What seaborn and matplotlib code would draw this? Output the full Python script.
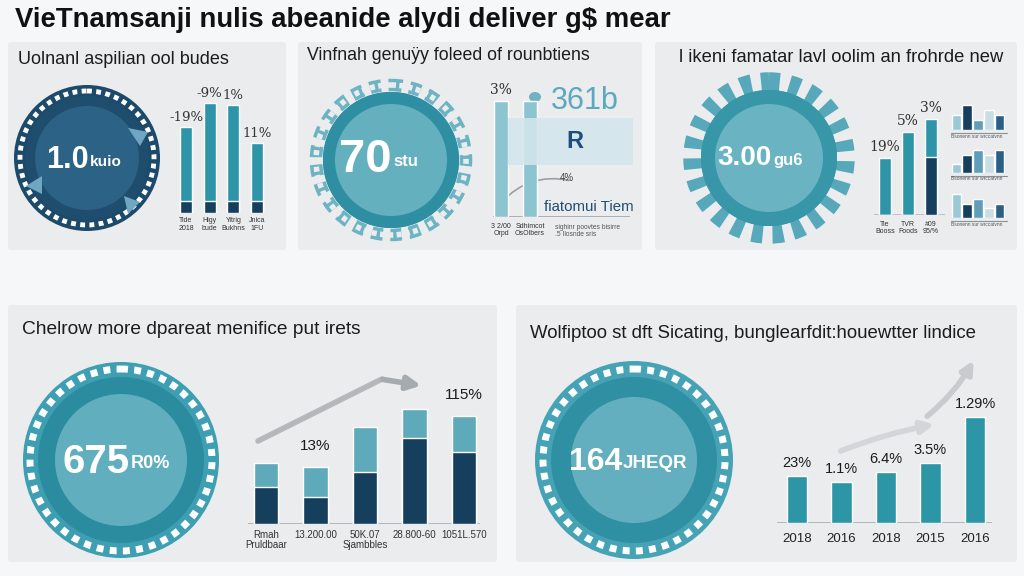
import numpy as np
import matplotlib
matplotlib.use("Agg")
import matplotlib.pyplot as plt
import matplotlib.patches as mpatches
import seaborn as sns

# ============================================================
# Data
# ============================================================

main_title = "VieTnamsanji nulis abeanide alydi deliver g$ mear"

panel_titles = [
    "Uolnanl aspilian ool budes",
    "Vinfnah genuÿy foleed of rounbtiens",
    "l ikeni famatar lavl oolim an frohrde new",
    "Chelrow more dpareat menifice put irets",
    "Wolfiptoo st dft Sicating, bunglearfdit:houewtter lindice",
]

donut_values = ["1.0", "70", "3.00", "675", "164"]
donut_units = ["kuio", "stu", "gu6", "R0%", "JHEQR"]

# panel 1: bar heights (total) and dark base segment
p1_total = [86, 110, 108, 70]
p1_base = [12, 12, 12, 12]
p1_labels = ["-19%", "-9%", "1%", "11%"]
p1_ticks = ["Tide\n2018", "Higy\nbude", "Yitrig\nBukhns", "Jnica\n1FU"]

# panel 2: two pale bars
p2_total = [116, 116]
p2_ticks = ["3 2/00\nOrpd", "Sdhimcot\nOsOlbers"]

# panel 3: bars, dark lower part of the last bar
p3_total = [57, 83, 96]
p3_dark = [0, 0, 58]
p3_labels = ["19%", "5%", "3%"]
p3_ticks = ["Tie\nBooss", "TVR\nFoods", "#09\n95/%"]
p3_icons = [[3, 5, 2, 4, 3], [2, 4, 5, 4, 5], [5, 3, 4, 2, 3]]

# panel 4: stacked bars
p4_total = [61, 57, 97, 115, 108]
p4_dark = [37, 27, 52, 86, 72]
p4_labels = ["", "13%", "", "", "115%"]
p4_ticks = ["Rmah\nPruldbaar", "13.200.00", "50K.07\nSjambbles", "28.800-60", "1051L.570"]

# panel 5: simple bars
p5_total = [47, 41, 51, 60, 106]
p5_labels = ["23%", "1.1%", "6.4%", "3.5%", "1.29%"]
p5_ticks = ["2018", "2016", "2018", "2015", "2016"]

# ============================================================
# Style
# ============================================================

sns.set_theme(style="white")
plt.rcParams["font.family"] = ["Liberation Sans", "DejaVu Sans"]

W, H = 1024, 576
BG = "#f6f7f8"
PANEL = "#eaecee"
TEAL = "#2e95a9"
TEAL_LIGHT = "#5eaabb"
NAVY = "#153f5c"
TXT = "#1c1c1c"

fig = plt.figure(figsize=(W / 100, H / 100), dpi=100, facecolor=BG)

ov = fig.add_axes([0, 0, 1, 1])
ov.set_xlim(0, W)
ov.set_ylim(H, 0)
ov.axis("off")

# panels
for (x0, y0, x1, y1) in [(8, 42, 286, 250), (298, 42, 642, 250), (655, 42, 1017, 250),
                         (8, 305, 497, 562), (516, 305, 1017, 562)]:
    ov.add_patch(mpatches.FancyBboxPatch((x0, y0), x1 - x0, y1 - y0,
                                         boxstyle="round,pad=0,rounding_size=3",
                                         fc=PANEL, ec="none"))

ov.text(15, 20, main_title, fontsize=19.8, fontweight="bold", color="#111111",
        va="center", ha="left")

title_pos = [(18, 60, 13), (307, 56, 12.8), (679, 58, 13.2), (22, 330, 13.8), (530, 334, 13.4)]
for (tx, ty, fs), t in zip(title_pos, panel_titles):
    ov.text(tx, ty, t, fontsize=fs, color=TXT, va="center", ha="left")


# ============================================================
# Donuts
# ============================================================

def donut(cx, cy, r_out, outer_c, r_band, band_c, r_in, inner_c,
          dash_r=None, dash_c="white", dash_lw=4, dash_pat=(1.0, 0.9)):
    ov.add_patch(mpatches.Circle((cx, cy), r_out, fc=outer_c, ec="none"))
    if dash_r is not None:
        ov.add_patch(mpatches.Circle((cx, cy), dash_r, fill=False, ec=dash_c,
                                     lw=dash_lw, ls=(0, dash_pat)))
    ov.add_patch(mpatches.Circle((cx, cy), r_band, fc=band_c, ec="none"))
    ov.add_patch(mpatches.Circle((cx, cy), r_in, fc=inner_c, ec="none"))


# panel 1
donut(87, 158, 73, "#1d4a6a", 62, "#1f4d6e", 52, "#2c6286", dash_r=67, dash_lw=3.5)
for tri in [[(128, 128), (148, 132), (140, 146)],
            [(26, 186), (42, 176), (42, 194)],
            [(124, 196), (140, 202), (128, 214)]]:
    ov.add_patch(mpatches.Polygon(tri, fc="#6fa7c2", ec="none"))

# panel 2
ov.add_patch(mpatches.Circle((391, 160), 75, fill=False, ec="#6db3c3", lw=9,
                             ls=(0, (0.9, 0.6))))
ov.add_patch(mpatches.Circle((391, 160), 75, fill=False, ec=PANEL, lw=4,
                             ls=(0, (0.9, 0.6))))
donut(391, 160, 68, "#2f8fa2", 68, "#2f8fa2", 56, "#65b0bf")

# panel 3
ov.add_patch(mpatches.Circle((769, 158), 76, fill=False, ec="#56a8ba", lw=14,
                             ls=(0, (0.55, 0.5))))
donut(769, 158, 68, "#3896a9", 68, "#3896a9", 54, "#6ab3c2")

# panel 4
donut(121, 460, 98, "#3f9fb2", 83, "#2b8c9f", 66, "#60aebe", dash_r=91, dash_lw=5)

# panel 5
donut(634, 460, 99, "#46a3b5", 83, "#2f90a3", 63, "#64afbf", dash_r=91, dash_lw=5)

# donut value texts: (center x, y, split offset, big size, small size)
donut_text = [(87, 160, 2, 22, 11), (391, 160, 1, 34, 12), (769, 158, 3, 20, 12),
              (121, 462, 9, 29, 13), (634, 462, -12, 23, 13.5)]
for (cx, cy, dx, fs_big, fs_small), v, u in zip(donut_text, donut_values, donut_units):
    ov.text(cx + dx, cy, v, fontsize=fs_big, fontweight="bold", color="white",
            ha="right", va="center")
    ov.text(cx + dx + 1, cy + 2, u, fontsize=fs_small, fontweight="bold", color="white",
            ha="left", va="center")


# ============================================================
# Bar charts
# ============================================================

def bar_axes(left, right, base, top, c0, sp):
    ax = fig.add_axes([left / W, 1 - base / H, (right - left) / W, (base - top) / H])
    ax.set_facecolor("none")
    return ax, ((left - c0) / sp, (right - c0) / sp), (0, base - top)


def finish(ax, xlim, ylim, ticks, fs, tick_c="#333333", pad=3, baseline=None):
    ax.set_xlim(*xlim)
    ax.set_ylim(*ylim)
    ax.set_xticks(range(len(ticks)), ticks, fontsize=fs, color=tick_c, linespacing=1.1)
    ax.set_yticks([])
    ax.set_xlabel("")
    ax.set_ylabel("")
    ax.tick_params(axis="x", length=0, pad=pad)
    sns.despine(ax=ax, left=True, bottom=True)
    if baseline:
        ax.axhline(0, color=baseline, lw=1.2, zorder=0)


# panel 1
ax1, xl, yl = bar_axes(176, 268, 213, 80, 186, 23.7)
idx = list(range(len(p1_total)))
sns.barplot(x=idx, y=p1_total, color=TEAL, width=0.5, saturation=1, errorbar=None, ax=ax1)
sns.barplot(x=idx, y=p1_base, color=NAVY, width=0.5, saturation=1, errorbar=None, ax=ax1)
for i, (v, lab) in enumerate(zip(p1_total, p1_labels)):
    ax1.text(i, v + 3, lab, fontsize=9.5, ha="center", va="bottom", color="#333333",
             family="DejaVu Serif")
finish(ax1, xl, yl, p1_ticks, 5, pad=3)

# panel 2
ax2, xl, yl = bar_axes(493, 630, 217, 80, 501, 29)
idx = list(range(len(p2_total)))
sns.barplot(x=idx, y=p2_total, color="#8cc4d0", width=0.48, saturation=1, errorbar=None, ax=ax2)
finish(ax2, xl, yl, p2_ticks, 5, pad=4, baseline="#a0a6aa")
ax2.text(0, p2_total[0] + 4, "3%", fontsize=10, ha="center", va="bottom", color="#333333",
         family="DejaVu Serif")
ax2.add_patch(mpatches.Rectangle((508, 118), 125, 47, fc="#d3e6ec", ec="none", alpha=0.88,
                                 transform=ov.transData, clip_on=False, zorder=5))
ax2.text(575, 142, "R", fontsize=17, fontweight="bold", color="#1e4f78", ha="center",
         va="center", transform=ov.transData, zorder=6)
ov.text(585, 101, "361b", fontsize=22, color="#5ba9bc", ha="center", va="center")
ov.add_patch(mpatches.Ellipse((535, 97), 12, 10, fc="#6fb3c2", ec="none"))
ov.annotate("", xy=(572, 181), xytext=(500, 204),
            arrowprops=dict(arrowstyle="-", color="#9a9fa3", lw=1.2,
                            connectionstyle="arc3,rad=-0.3"))
ov.text(567, 178, "4%", fontsize=7, color="#444444", ha="center", va="center")
ov.text(589, 207, "fiatomui Tiem", fontsize=10.8, color="#1f4e72", ha="center", va="center")
ov.text(555, 231, "sighinr poovtes bisirre\n.5 Ilosnde sris", fontsize=4.8, color="#555555",
        ha="left", va="center", linespacing=1.1)

# panel 3
ax3, xl, yl = bar_axes(874, 945, 215, 80, 885, 23)
idx = list(range(len(p3_total)))
sns.barplot(x=idx, y=p3_total, color=TEAL, width=0.52, saturation=1, errorbar=None, ax=ax3)
sns.barplot(x=idx, y=p3_dark, color=NAVY, width=0.52, saturation=1, errorbar=None, ax=ax3)
for i, (v, lab) in enumerate(zip(p3_total, p3_labels)):
    ax3.text(i, v + 4, lab, fontsize=10, ha="center", va="bottom", color="#333333",
             family="DejaVu Serif")
finish(ax3, xl, yl, p3_ticks, 5, pad=4, baseline="#b5babd")

icon_boxes = [(951, 98, 130), (951, 143, 173), (951, 187, 218)]
icon_colors = ["#9cc9d6", NAVY, "#5f9dbb", "#c9dde6", "#2c5f86"]
for (ix, iy0, iy1), vals in zip(icon_boxes, p3_icons):
    axi = fig.add_axes([ix / W, 1 - iy1 / H, 54 / W, (iy1 - iy0) / H])
    axi.set_facecolor("#f1f3f5")
    sns.barplot(x=list(range(len(vals))), y=vals, hue=list(range(len(vals))),
                palette=icon_colors, width=0.9, saturation=1, errorbar=None,
                legend=False, ax=axi)
    axi.set_xlim(-0.5, len(vals) - 0.5)
    axi.set_ylim(0, 6.5)
    axi.axis("off")
    ov.plot([ix, ix + 56], [iy1 + 3, iy1 + 3], color="#8a9095", lw=0.8)
    ov.text(ix, iy1 + 6, "Bsonenn sur wrccatvnn", fontsize=3.5, color="#555555",
            ha="left", va="center")

# panel 4
ax4, xl, yl = bar_axes(248, 480, 524, 370, 266, 49.5)
idx = list(range(len(p4_total)))
sns.barplot(x=idx, y=p4_total, color=TEAL_LIGHT, width=0.5, saturation=1, errorbar=None, ax=ax4)
sns.barplot(x=idx, y=p4_dark, color=NAVY, width=0.5, saturation=1, errorbar=None, ax=ax4)
for i, (v, lab) in enumerate(zip(p4_total, p4_labels)):
    if lab:
        ax4.text(i, v + 14, lab, fontsize=11, ha="center", va="bottom", color=TXT)
finish(ax4, xl, yl, p4_ticks, 7, pad=4, baseline="#a8adb1")
ov.plot([258, 382], [441, 379], color="#b4b8bb", lw=4, solid_capstyle="round")
ov.annotate("", xy=(424, 386), xytext=(380, 379),
            arrowprops=dict(arrowstyle="-|>", color="#a7abae", lw=4, mutation_scale=20))

# panel 5
ax5, xl, yl = bar_axes(777, 992, 523, 370, 797, 44.5)
idx = list(range(len(p5_total)))
sns.barplot(x=idx, y=p5_total, color="#2c96a7", width=0.47, saturation=1, errorbar=None, ax=ax5)
for i, (v, lab) in enumerate(zip(p5_total, p5_labels)):
    ax5.text(i, v + 6, lab, fontsize=10.5, ha="center", va="bottom", color=TXT)
finish(ax5, xl, yl, p5_ticks, 9.5, tick_c="#222222", pad=7, baseline="#a8adb1")
ov.annotate("", xy=(937, 424), xytext=(838, 452),
            arrowprops=dict(arrowstyle="-|>", color="#d3d6d8", lw=4, mutation_scale=18,
                            connectionstyle="arc3,rad=-0.05"))
ov.annotate("", xy=(975, 358), xytext=(925, 418),
            arrowprops=dict(arrowstyle="-|>", color="#c9cccf", lw=4, mutation_scale=18,
                            connectionstyle="arc3,rad=0.1"))

fig.savefig("out.png", dpi=100, facecolor=BG)
